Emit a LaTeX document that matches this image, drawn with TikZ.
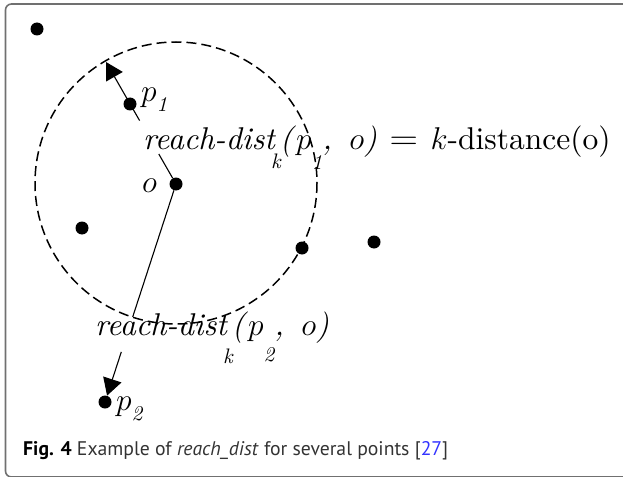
\RequirePackage{fix-cm}
\documentclass[tikz,border=0pt]{standalone}
\usepackage{fontspec}
\setmainfont{lmroman10-regular.otf}[ItalicFont=lmroman10-italic.otf,BoldFont=lmroman10-bold.otf]
\newfontfamily\capfont{PT Sans}
\usetikzlibrary{arrows.meta,calc}
\definecolor{framegray}{HTML}{707070}
\definecolor{captext}{HTML}{333333}
\definecolor{refblue}{HTML}{3333FF}
\newcommand\dnsub[2]{\raisebox{#1}{\fontsize{21}{21}\selectfont\itshape #2}}
\newcommand\bigeq{\scalebox{1.25}[1.1]{$=$}}
\begin{document}
\begin{tikzpicture}[x=1pt,y=-1pt,
  dot/.style={circle,fill=black,inner sep=0pt,minimum size=13pt},
  lbl/.style={inner sep=0pt,anchor=base west,font=\fontsize{31.5}{36}\selectfont},
  conn/.style={line width=1.1pt},
  tri/.style={conn,-{Triangle[length=17pt,width=19pt]}}]
\useasboundingbox (0,0) rectangle (623,476);
% frame
\draw[framegray,line width=1.6pt,rounded corners=6pt] (5.5,4) rectangle (640,477);
% points
\node[dot] (tl) at (37,29) {};
\node[dot] (o) at (176,184) {};
\node[dot] (p1) at (130,104) {};
\node[dot] (q1) at (82,228) {};
\node[dot] (q2) at (302,248) {};
\node[dot] (q3) at (374,242) {};
\node[dot] (p2) at (105,402) {};
% k-distance circle
\draw[dash pattern=on 10pt off 5pt,line width=1.5pt] (176,183) circle (141);
\coordinate (c1) at (106,62);
% labels
\node[lbl] (lo) at (142,192) {$o$};
\node[lbl] (lp1) at (141,102) {$p$\dnsub{-10pt}{1}};
\node[lbl] (lp2) at (116,410) {$p$\dnsub{-10pt}{2}};
\node[lbl] (l1) at (143,149) {\textit{reach-dist}\kern-5pt\dnsub{-19pt}{k}\kern-1pt\textit{(}$p$\dnsub{-20pt}{1}\textit{,}\hspace{0.55em}$o$\textit{)}\hspace{0.4em}\bigeq\hspace{0.4em}$k$-distance(o)};
\node[lbl] (l2) at (95,335) {\textit{reach-dist}\kern-5pt\dnsub{-28pt}{k}\kern-1pt\textit{(}$p$\dnsub{-26pt}{2}\textit{,}\hspace{0.55em}$o$\textit{)}};
% connectors
\draw[conn] (o) -- ($(o)!0.246!(c1)$);
\draw[tri] ($(o)!0.52!(c1)$) -- (c1);
\draw[conn] (o) -- ($(o)!0.61!(p2)$);
\draw[tri] ($(o)!0.77!(p2)$) -- (p2);
% caption
\node[inner sep=0pt,anchor=base west,text=captext,font=\capfont\fontsize{19.7}{23}\selectfont] (cap) at (23,455)
  {\textcolor{black}{\textbf{Fig. 4}} Example of \textit{reach\_dist} for several points [\textcolor{refblue}{27}]};
\end{tikzpicture}
\end{document}
